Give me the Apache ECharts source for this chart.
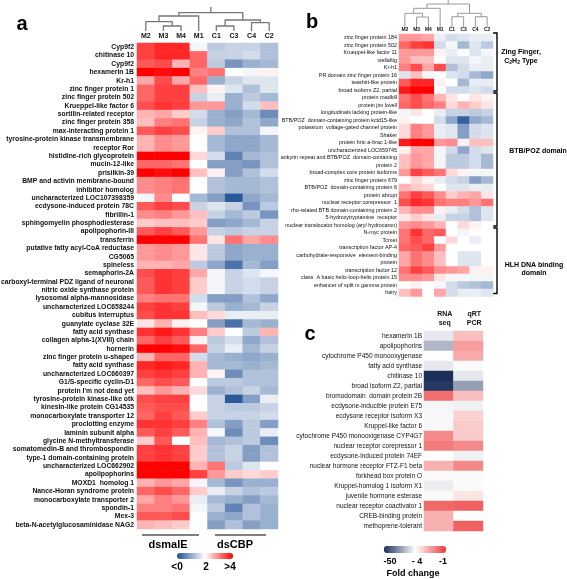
<!DOCTYPE html>
<html><head><meta charset="utf-8">
<script src="https://cdn.jsdelivr.net/npm/echarts@6/dist/echarts.min.js"></script>
<style>html,body{margin:0;padding:0;background:#fff}#c{width:567px;height:579px}</style>
</head><body><div id="c"></div><script>
const FONT = 'Liberation Sans, Arial, sans-serif';

// ---------- Panel a ----------
const colsA = ['M2','M3','M4','M1','C1','C3','C4','C2'];
const rowsA = ['Cyp9f2','chitinase 10','Cyp9f2','hexamerin 1B','Kr-h1','zinc finger protein 1','zinc finger protein 502','Krueppel-like factor 6','sortilin-related receptor','zinc finger protein 358','max-interacting protein 1','tyrosine-protein kinase transmembrane','receptor Ror','histidine-rich glycoprotein','mucin-12-like','prisilkin-39','BMP and activin membrane-bound','inhibitor homolog','uncharacterized LOC107398359','ecdysone-induced protein 78C','fibrillin-1','sphingomyelin phosphodiesterase','apolipophorin-III','transferrin','putative fatty acyl-CoA reductase','CG5065','spineless','semaphorin-2A','carboxyl-terminal PDZ ligand of neuronal','nitric oxide synthase protein','lysosomal alpha-mannosidase','uncharacterized LOC658244','cubitus interruptus','guanylate cyclase 32E','fatty acid synthase','collagen alpha-1(XVIII) chain','hornerin','zinc finger protein u-shaped','fatty acid synthase','uncharacterized LOC660397','G1/S-specific cyclin-D1',"protein I'm not dead yet",'tyrosine-protein kinase-like otk','kinesin-like protein CG14535','monocarboxylate transporter 12','proclotting enzyme','laminin subunit alpha','glycine N-methyltransferase','somatomedin-B and thrombospondin','type-1 domain-containing protein','uncharacterized LOC662902','apolipophorins','MOXD1  homolog 1','Nance-Horan syndrome protein','monocarboxylate transporter 2','spondin-1','Mex-3','beta-N-acetylglucosaminidase NAG2'];
const heatA = [
[3.5,3.7,3.7,1.9,1.4,1.5,1.5,1.3],
[3.5,3.7,3.7,3.2,1.5,1.5,1.6,1.3],
[3.3,3.4,2.6,3.2,1.4,0.8,1.1,1.2],
[4.0,3.9,4.0,3.0,3.1,2.0,1.9,2.1],
[2.7,3.4,2.7,3.2,1.1,1.5,1.7,1.7],
[3.2,3.5,3.5,2.5,2.1,1.7,1.3,1.7],
[3.2,3.5,3.5,1.5,1.8,1.1,1.4,1.2],
[3.4,3.6,3.5,2.8,2.8,1.1,1.6,2.5],
[2.6,2.7,2.4,1.6,1.1,0.9,1.2,0.7],
[2.5,3.0,3.1,1.5,1.1,1.0,1.3,1.0],
[3.3,3.5,3.4,2.1,2.4,1.3,1.3,1.9],
[2.6,2.9,2.8,2.0,1.2,1.0,1.0,1.2],
[2.6,2.9,2.8,2.0,1.2,1.0,1.0,1.2],
[4.0,4.0,4.0,2.3,1.6,0.6,1.2,1.3],
[3.2,3.2,3.1,2.0,0.9,0.9,0.8,1.3],
[4.0,3.9,4.0,2.5,2.1,0.9,1.3,1.6],
[2.9,3.0,3.1,2.0,1.3,1.2,1.2,1.3],
[2.9,3.0,3.1,2.0,1.3,1.2,1.2,1.3],
[1.9,2.9,2.0,1.2,0.9,0.1,1.0,1.2],
[3.3,3.5,3.4,1.5,1.7,1.5,0.8,1.4],
[2.9,3.0,2.8,2.5,1.5,1.2,1.4,0.8],
[2.4,2.5,2.5,2.4,0.9,1.0,1.2,1.5],
[3.3,3.5,3.3,2.8,1.5,1.4,1.5,1.5],
[4.0,4.0,4.0,3.1,2.2,3.1,2.7,2.9],
[2.8,2.9,2.8,2.2,1.4,1.0,1.1,1.1],
[2.8,2.9,2.8,2.2,1.4,1.0,1.1,1.1],
[2.6,2.6,2.7,1.4,1.0,0.4,1.2,0.9],
[3.4,3.6,3.5,2.7,1.9,1.5,1.7,1.9],
[3.3,3.6,3.5,2.4,1.9,1.5,1.6,1.5],
[3.3,3.6,3.5,2.4,1.9,1.5,1.6,1.5],
[3.0,3.1,3.1,1.6,0.9,0.9,1.3,1.0],
[3.5,3.6,3.5,1.9,1.4,1.1,1.2,1.5],
[3.4,3.6,3.6,2.5,2.3,1.8,1.8,1.8],
[2.2,2.6,2.1,2.0,0.9,0.4,1.2,1.1],
[3.6,3.8,3.6,3.0,2.4,2.0,1.4,2.6],
[3.2,3.5,3.3,2.1,1.4,1.6,1.0,1.3],
[4.0,4.0,3.9,3.2,1.5,1.8,1.2,1.5],
[2.6,3.2,3.2,1.6,1.2,1.1,1.0,1.1],
[3.7,3.8,3.7,2.6,1.2,1.2,1.1,1.2],
[3.5,3.6,3.5,2.6,2.1,0.7,1.3,1.3],
[3.2,3.4,3.3,2.0,1.4,1.4,1.3,1.3],
[2.5,2.8,2.6,2.3,1.1,1.3,1.5,1.2],
[3.4,3.5,3.5,2.0,1.5,0.1,0.9,1.8],
[3.3,3.4,3.4,2.0,1.5,1.4,1.4,1.5],
[3.2,3.5,3.3,2.4,1.5,1.5,1.5,1.6],
[3.6,3.6,3.5,3.0,1.3,0.9,1.4,0.9],
[3.3,3.5,3.3,2.6,1.9,0.7,1.4,1.8],
[2.4,3.3,2.0,2.5,1.2,1.3,1.4,0.7],
[3.5,3.6,3.5,2.4,1.3,1.5,0.9,1.3],
[3.5,3.6,3.5,2.4,1.3,1.5,0.9,1.3],
[4.0,4.0,4.0,2.6,3.1,1.4,1.7,2.0],
[4.0,4.0,4.0,3.5,2.8,2.4,2.3,2.4],
[2.6,2.8,2.7,1.9,1.2,0.8,1.1,1.1],
[3.2,3.4,3.2,2.4,1.8,1.5,1.3,1.4],
[2.7,3.0,2.8,1.8,1.2,1.1,0.9,1.2],
[3.0,3.0,3.1,1.9,1.4,0.6,1.3,1.1],
[3.3,3.3,3.4,2.0,1.1,1.0,1.3,1.1],
[2.6,2.5,2.4,2.0,0.9,1.3,0.9,1.1]
];
// dendrogram merges: [childA, childB, height]; leaves 0..7 follow colsA
const mergesA = [[1,2,5],[0,8,9.3],[9,3,15],[4,5,5],[6,7,8.3],[11,12,11],[10,13,18.3]];
const stemA = 24;
const scaleTicksA = ['<0','2','>4'];
const groupsA = ['dsmalE','dsCBP'];

// ---------- Panel b ----------
const colsB = ['M2','M3','M4','M1','C1','C3','C4','C2'];
const rowsB = ['zinc finger protein 184','zinc finger protein 502','Krueppel-like factor 11','viellaftig','Kr-h1','PR domain zinc finger protein 16','teashirt-like protein','broad isoform Z2, partial','protein roadkill','protein jim lovell','longitudinals lacking protein-like','BTB/POZ  domain-containing protein kctd15-like','potassium  voltage-gated channel protein','Shaker','protein bric-a-brac 1-like','uncharacterized LOC659745','ankyrin repeat and BTB/POZ  domain-containing','protein 2','broad-complex core protein isoforms','zinc finger protein 679','BTB/POZ  domain-containing protein 6','protein abrupt','nuclear receptor corepressor  1','rho-related BTB domain-containing protein 2','5-hydroxytryptamine  receptor','nuclear translocator homolog (aryl hydrocaron)','N-myc protein','Tcmet','transcription factor AP-4','carbohydrate-responsive  element-binding','protein','transcription factor 12','class  A basic helix-loop-helix protein 15','enhancer of split m gamma protein','hairy'];
const heatB = [
[2.8,2.8,2.7,1.8,1.6,1.7,1.8,1.8],
[3.2,3.5,3.6,1.6,1.9,1.2,1.7,1.4],
[2.8,2.8,2.8,2.1,1.8,2.0,1.7,1.9],
[2.8,2.5,2.5,2.0,1.7,1.7,1.9,1.8],
[3.0,3.4,2.7,3.4,1.3,1.6,1.8,1.8],
[1.7,2.5,1.9,2.0,1.7,1.6,1.2,1.0],
[3.3,3.7,3.7,2.1,2.0,1.2,1.8,1.8],
[3.8,4.0,4.0,2.0,1.6,1.6,1.7,1.6],
[3.1,3.4,3.1,2.6,2.2,2.0,2.2,2.1],
[3.2,3.4,3.2,3.0,2.3,2.6,2.4,2.2],
[1.9,2.2,2.0,1.8,1.5,1.5,1.4,1.5],
[2.1,2.0,2.0,1.6,1.0,0.2,1.0,1.2],
[2.3,3.0,2.8,1.8,1.7,0.9,1.6,1.7],
[2.3,3.0,2.8,1.8,1.7,0.9,1.6,1.7],
[3.8,4.0,4.0,2.8,2.9,2.1,2.5,2.5],
[2.1,2.7,2.7,1.9,1.6,1.0,1.6,1.7],
[2.5,2.8,2.7,1.9,1.4,1.4,1.6,1.2],
[2.5,2.8,2.7,1.9,1.4,1.4,1.6,1.2],
[2.8,3.5,3.3,3.1,2.3,2.1,1.9,1.9],
[2.0,2.3,2.1,1.8,1.6,1.5,0.9,1.2],
[2.6,2.4,2.3,2.0,1.7,1.7,1.8,1.8],
[3.1,3.5,3.3,2.9,2.4,2.6,2.7,2.2],
[3.4,3.7,3.6,3.1,3.0,3.0,2.8,3.1],
[2.6,2.9,2.9,2.1,1.8,1.6,1.3,1.7],
[2.2,2.4,2.2,1.8,1.5,1.5,1.3,1.7],
[2.8,2.9,2.8,2.6,2.0,2.3,2.1,2.0],
[3.1,3.6,3.2,3.3,2.0,1.9,2.0,2.0],
[3.1,3.4,3.2,2.0,2.3,2.0,1.8,2.0],
[3.2,3.3,3.5,2.8,2.0,2.0,2.0,2.0],
[2.7,3.1,2.9,2.5,2.0,1.7,1.7,2.0],
[2.7,3.1,2.9,2.5,2.0,1.7,1.7,2.0],
[3.1,3.5,3.3,2.9,2.8,2.7,2.1,2.1],
[2.9,2.9,2.8,2.2,1.9,1.9,1.9,1.9],
[2.0,2.1,2.0,1.9,1.6,1.4,1.3,1.2],
[2.5,2.8,2.0,2.7,1.6,1.8,1.8,1.7]
];
const mergesB = [[1,2,10],[0,8,13.7],[9,3,18.7],[4,5,10.3],[6,7,10.3],[11,12,13.7],[10,13,23]];
const stemB = 27;
const domainGroups = [['Zing Finger,', 0, 7], ['BTB/POZ domain', 8, 25], ['HLH DNA binding', 26, 34]];

// ---------- Panel c ----------
const colsC = ['RNA\nseq','qRT\nPCR'];
const rowsC = ['hexamerin 1B','apolipophorins','cytochrome P450 monooxygenase','fatty acid synthase','chitinase 10','broad isoform Z2, partial','bromodomain  domain protein 2B','ecdysone-inducible protein E75','ecdysone receptor isoform X3','Kruppel-like factor 6','cytochrome P450 monooxigenase CYP4G7','nuclear receptor corepressor 1','ecdysone-induced protein 74EF','nuclear hormone receptor FTZ-F1 beta','forkhead box protein O','Kruppel-homolog 1 isoform X1','juvenile hormone esterase','nuclear receptor coactivator 1','CREB-binding protein','methoprene-tolerant'];
const rnaSeq = [-9,-20,-4.5,-9,-50,-48,-1.8,-6,-5.5,-5.5,-2.2,-2.0,-4.3,-2.8,-5,-8,-5,-1.7,-2.8,-2.8];
const qrtPcr = [-3,-2.5,-2.7,-5,-9,-25,-3,-7,-3.3,-3.2,-3.2,-2.2,-7,-2.2,-5,-5,-3.6,-1.6,-4.2,-1.6];
const scaleTicksC = ['-50','- 4','-1'];

// ---------- helpers ----------
function heatData(m){ const d=[]; m.forEach((r,i)=>r.forEach((v,j)=>d.push([j,i,v]))); return d; }
function foldPos(v){ return v <= -4 ? 0.5*(v+50)/46 : 0.5 + 0.5*(v+4)/3; }
function dendro(n, merges, stemTop){
  const xs=[], hs=[]; for(let i=0;i<n;i++){xs.push(i+0.5);hs.push(0);}
  const segs=[];
  merges.forEach(([a,b,h])=>{
    segs.push({coords:[[xs[a],hs[a]],[xs[a],h],[xs[b],h],[xs[b],hs[b]]]});
    xs.push((xs[a]+xs[b])/2); hs.push(h);
  });
  const r=xs.length-1; segs.push({coords:[[xs[r],hs[r]],[xs[r],stemTop]]});
  return segs;
}
const dataC = []; rnaSeq.forEach((v,i)=>dataC.push([0,i,foldPos(v)])); qrtPcr.forEach((v,i)=>dataC.push([1,i,foldPos(v)]));

const NB = {outerBoundsMode:'none', containLabel:false};
const GA = Object.assign({left:137, top:43, width:141, height:486}, NB);
const GB = Object.assign({left:399, top:34, width:94, height:262.5}, NB);
const GC = Object.assign({left:424, top:331, width:59, height:200}, NB);

function catX(data, gi, fs, margin, extra){ return Object.assign({type:'category', gridIndex:gi, data, position:'top', axisLine:{show:false}, axisTick:{show:false}, splitLine:{show:false},
  axisLabel:{fontFamily:FONT, fontSize:fs, fontWeight:'bold', color:'#111', margin, interval:0}}, extra||{}); }
function catY(data, gi, fs, margin, fw){ return {type:'category', gridIndex:gi, data, inverse:true, axisLine:{show:false}, axisTick:{show:false}, splitLine:{show:false},
  axisLabel:{fontFamily:FONT, fontSize:fs, fontWeight:fw, color:'#111', margin, interval:0}}; }
function hidVal(gi, min, max){ return {type:'value', gridIndex:gi, min, max, show:false, splitLine:{show:false}}; }

const gr = [];
function txt(x,y,t,fs,fw,align){ gr.push({type:'text', x, y, style:{text:t, fontFamily:FONT, fontSize:fs, fontWeight:fw||'bold', fill:'#000', align:align||'center', verticalAlign:'middle'}}); }
txt(22,24,'a',20,'bold'); txt(312,22,'b',20,'bold'); txt(310,334,'c',20,'bold');
[[142,199,168],[215,266,235]].forEach((p,i)=>{
  gr.push({type:'line', shape:{x1:p[0],y1:535,x2:p[1],y2:535}, style:{stroke:'#555', lineWidth:1.5}});
  txt(p[2],545,groupsA[i],11,'bold');
});
txt(177,567,scaleTicksA[0],10,'bold'); txt(206,567,scaleTicksA[1],10,'bold'); txt(230,567,scaleTicksA[2],10,'bold');
txt(390,562,scaleTicksC[0],9,'bold'); txt(417,562,scaleTicksC[1],9,'bold'); txt(443,562,scaleTicksC[2],9,'bold');
txt(413,574,'Fold change',9,'bold');
const rhB = GB.height/rowsB.length;
domainGroups.forEach(([lab,s,e])=>{
  const y1 = GB.top + s*rhB - 1, y2 = GB.top + (e+1)*rhB - 3, x = 497;
  gr.push({type:'polyline', shape:{points:[[x-4,y1],[x,y1],[x,y2],[x-4,y2]]}, style:{stroke:'#000', lineWidth:1.4, fill:null}});
});
txt(521,52,'Zing Finger,',7,'bold');
gr.push({type:'text', x:521, y:61, style:{rich:{n:{fontFamily:FONT,fontSize:7,fontWeight:'bold',fill:'#000'}, s:{fontFamily:FONT,fontSize:5,fontWeight:'bold',fill:'#000',verticalAlign:'bottom',padding:[3,0,0,0]}}, text:'{n|C}{s|2}{n|H}{s|2}{n| Type}', align:'center', verticalAlign:'middle'}});
txt(538,151,'BTB/POZ domain',7,'bold');
txt(534,265,'HLH DNA binding',7,'bold');
txt(534,273,'domain',7,'bold');

const option = {
  backgroundColor:'#fff',
  animation:false,
  grid:[
    GA, GB, GC,
    Object.assign({left:137, top:7, width:141, height:24}, NB),
    Object.assign({left:399, top:0, width:94, height:27}, NB)
  ],
  xAxis:[
    catX(colsA,0,7,3),
    catX(colsB,1,5,2),
    catX(colsC,2,7,3,{axisLabel:{fontFamily:FONT,fontSize:7,fontWeight:'bold',color:'#111',margin:3,interval:0,lineHeight:9,padding:[0,0,0,12]}}),
    hidVal(3,0,8), hidVal(4,0,8)
  ],
  yAxis:[
    catY(rowsA,0,6.8,3,'bold'),
    catY(rowsB,1,5.4,2,'normal'),
    catY(rowsC,2,6.5,2,'normal'),
    hidVal(3,0,stemA), hidVal(4,0,stemB)
  ],
  visualMap:[
    {type:'continuous', seriesIndex:[0,1], min:0, max:4, inRange:{color:['#1f4f94','#ffffff','#ff0000']}, orient:'horizontal', left:177, top:553, itemWidth:6, itemHeight:56, calculable:false, text:null, padding:0, hoverLink:false, showLabel:false},
    {type:'continuous', seriesIndex:[2], min:0, max:1, inRange:{color:['#1a2f5a','#ffffff','#ec3b3b']}, orient:'horizontal', left:384, top:546, itemWidth:7, itemHeight:62, calculable:false, text:null, padding:0, hoverLink:false, showLabel:false}
  ],
  series:[
    {type:'heatmap', xAxisIndex:0, yAxisIndex:0, data:heatData(heatA), silent:true},
    {type:'heatmap', xAxisIndex:1, yAxisIndex:1, data:heatData(heatB), silent:true},
    {type:'heatmap', xAxisIndex:2, yAxisIndex:2, data:dataC, silent:true},
    {type:'lines', coordinateSystem:'cartesian2d', xAxisIndex:3, yAxisIndex:3, polyline:true, data:dendro(colsA.length, mergesA, stemA), lineStyle:{color:'#777', width:1.3, opacity:1}, silent:true},
    {type:'lines', coordinateSystem:'cartesian2d', xAxisIndex:4, yAxisIndex:4, polyline:true, data:dendro(colsB.length, mergesB, stemB), lineStyle:{color:'#999', width:1, opacity:1}, silent:true}
  ],
  graphic: gr
};
const chart = echarts.init(document.getElementById('c'), null, {renderer:'canvas'});
chart.setOption(option);
</script></body></html>
